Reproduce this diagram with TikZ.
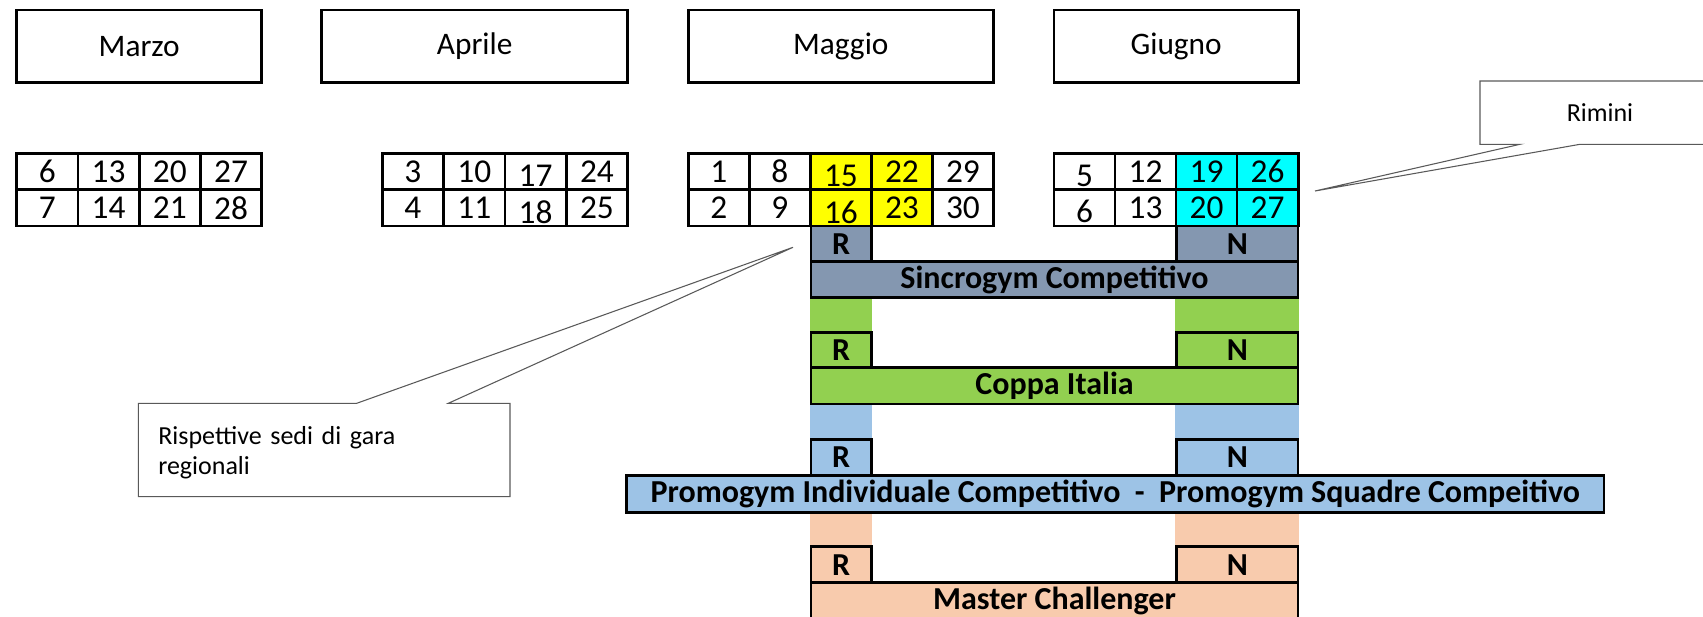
\documentclass[tikz,border=0pt]{standalone}
\usepackage{fontspec}
\setmainfont{Carlito}
\definecolor{sgray}{HTML}{8497B0}
\definecolor{sgreen}{HTML}{92D050}
\definecolor{sblue}{HTML}{9DC3E6}
\definecolor{speach}{HTML}{F8CBAD}
\definecolor{syellow}{HTML}{FFFF00}
\definecolor{scyan}{HTML}{00FFFF}
\begin{document}
\begin{tikzpicture}[x=0.75pt,y=-0.75pt,
  every node/.style={inner sep=0pt, outer sep=0pt, anchor=north west},
  sz/.style 2 args={minimum width=#1*0.75pt, minimum height=#2*0.75pt},
  monthbox/.style={draw, line width=2pt, font=\fontsize{23.5}{28}\selectfont},
  daycell/.style={draw, line width=2pt, sz={61.2}{36.35}, font=\fontsize{25}{30}\selectfont},
  evbox/.style={draw, line width=2pt, font=\bfseries\fontsize{24}{28}\selectfont},
  strip/.style={draw=none},
  callout/.style={draw=black!65, line width=0.8pt},
  calltext/.style={font=\fontsize{19.5}{22.5}\selectfont},
]
\useasboundingbox (0,0) rectangle (1703,617);
\clip (0,0) rectangle (1703,617);

% month headers
\node[monthbox, sz={245}{72.3}] (marzo) at (16.7,10) {Marzo};
\node[monthbox, sz={306}{72.3}] (aprile) at (321.7,10) {Aprile};
\node[monthbox, sz={305}{72.3}] (maggio) at (688.3,10) {Maggio};
\node[monthbox, sz={244.3}{72.3}] (giugno) at (1054,10) {Giugno};

% day tables
\foreach \vv/\cc/\dd [count=\i from 0] in {6/white/0,13/white/0,20/white/0,27/white/0}
  \node[daycell, fill=\cc] (mar1-\i) at ({16.7+\i*61.25},153.3) {\raisebox{-\dd pt}[\height][\depth]{\vv}};
\foreach \vv/\cc/\dd [count=\i from 0] in {7/white/0,14/white/0,21/white/0,28/white/0}
  \node[daycell, fill=\cc] (mar2-\i) at ({16.7+\i*61.25},189.65) {\raisebox{-\dd pt}[\height][\depth]{\vv}};

\foreach \vv/\cc/\dd [count=\i from 0] in {3/white/0,10/white/0,17/white/3,24/white/0}
  \node[daycell, fill=\cc] (apr1-\i) at ({382.3+\i*61.35},153.3) {\raisebox{-\dd pt}[\height][\depth]{\vv}};
\foreach \vv/\cc/\dd [count=\i from 0] in {4/white/0,11/white/0,18/white/3,25/white/0}
  \node[daycell, fill=\cc] (apr2-\i) at ({382.3+\i*61.35},189.65) {\raisebox{-\dd pt}[\height][\depth]{\vv}};

\foreach \vv/\cc/\dd [count=\i from 0] in {1/white/0,8/white/0,15/syellow/3.5,22/syellow/0,29/white/0}
  \node[daycell, fill=\cc] (mag1-\i) at ({688.3+\i*61},153.3) {\raisebox{-\dd pt}[\height][\depth]{\vv}};
\foreach \vv/\cc/\dd [count=\i from 0] in {2/white/0,9/white/0,16/syellow/3.5,23/syellow/0,30/white/0}
  \node[daycell, fill=\cc] (mag2-\i) at ({688.3+\i*61},189.65) {\raisebox{-\dd pt}[\height][\depth]{\vv}};

\foreach \vv/\cc/\dd [count=\i from 0] in {5/white/3,12/white/0,19/scyan/0,26/scyan/0}
  \node[daycell, fill=\cc] (gio1-\i) at ({1054+\i*61},153.3) {\raisebox{-\dd pt}[\height][\depth]{\vv}};
\foreach \vv/\cc/\dd [count=\i from 0] in {6/white/3,13/white/0,20/scyan/0,27/scyan/0}
  \node[daycell, fill=\cc] (gio2-\i) at ({1054+\i*61},189.65) {\raisebox{-\dd pt}[\height][\depth]{\vv}};

% strips (fill only)
\node[strip, fill=sgreen, sz={62.7}{35}] (gsR) at (809.7,297.7) {};
\node[strip, fill=sgreen, sz={124}{35}] (gsN) at (1175.4,297.7) {};
\node[strip, fill=sblue, sz={62.7}{35.3}] (bsR) at (809.7,404) {};
\node[strip, fill=sblue, sz={124}{35.3}] (bsN) at (1175.4,404) {};
\node[strip, fill=speach, sz={62.7}{34}] (psR) at (809.7,512.7) {};
\node[strip, fill=speach, sz={124}{34}] (psN) at (1175.4,512.7) {};

% Sincrogym
\node[evbox, fill=sgray, sz={60.3}{35.7}] (sR) at (811,226) {R};
\node[evbox, fill=sgray, sz={121.3}{35.7}] (sN) at (1176.7,226) {N};
\node[evbox, fill=sgray, sz={487}{36}] (sinc) at (811,261.7) {Sincrogym Competitivo};

% Coppa Italia
\node[evbox, fill=sgreen, sz={60.3}{34.6}] (cR) at (811,332.7) {R};
\node[evbox, fill=sgreen, sz={121.3}{34.6}] (cN) at (1176.7,332.7) {N};
\node[evbox, fill=sgreen, sz={487}{36.7}] (coppa) at (811,367.3) {Coppa Italia};

% Promogym
\node[evbox, fill=sblue, sz={60.3}{36.4}] (pR) at (811,439.3) {R};
\node[evbox, fill=sblue, sz={121.3}{36.4}] (pN) at (1176.7,439.3) {N};
\node[evbox, fill=sblue, sz={977.3}{37}] (promo) at (626.7,475.7) {Promogym Individuale Competitivo\ \ -\ \ Promogym Squadre Compeitivo};

% Master Challenger
\node[evbox, fill=speach, sz={60.3}{36}] (mR) at (811,546.7) {R};
\node[evbox, fill=speach, sz={121.3}{36}] (mN) at (1176.7,546.7) {N};
\node[evbox, fill=speach, sz={487}{36}] (master) at (811,582.7) {Master Challenger};

% Rimini callout
\node[calltext, sz={240}{63.3}] (rimini) at (1480,81) {Rimini};
\coordinate (rimA) at (1520,144.3);
\coordinate (rimB) at (1580,144.3);
\coordinate (rimT) at (1315,191);
\draw[callout] (rimini.north west) -- (rimini.north east) -- ++(60,0) -- ++(0,63.3) -- (rimB) -- (rimT) -- (rimA) -- (rimini.south west) -- cycle;

% Rispettive callout
\node[sz={371.7}{93.4}] (rsp) at (138.3,403.3) {};
\node[calltext, text width=260pt] (rsptxt) at (158.3,426) {\raggedright Rispettive sedi di gara\par regionali\par};
\coordinate (rspA) at (356.7,403.3);
\coordinate (rspB) at (448.3,403.3);
\coordinate (rspT) at (793,247.3);
\draw[callout] (rsp.north west) -- (rspA) -- (rspT) -- (rspB) -- (rsp.north east) -- (rsp.south east) -- (rsp.south west) -- cycle;
\end{tikzpicture}
\end{document}
